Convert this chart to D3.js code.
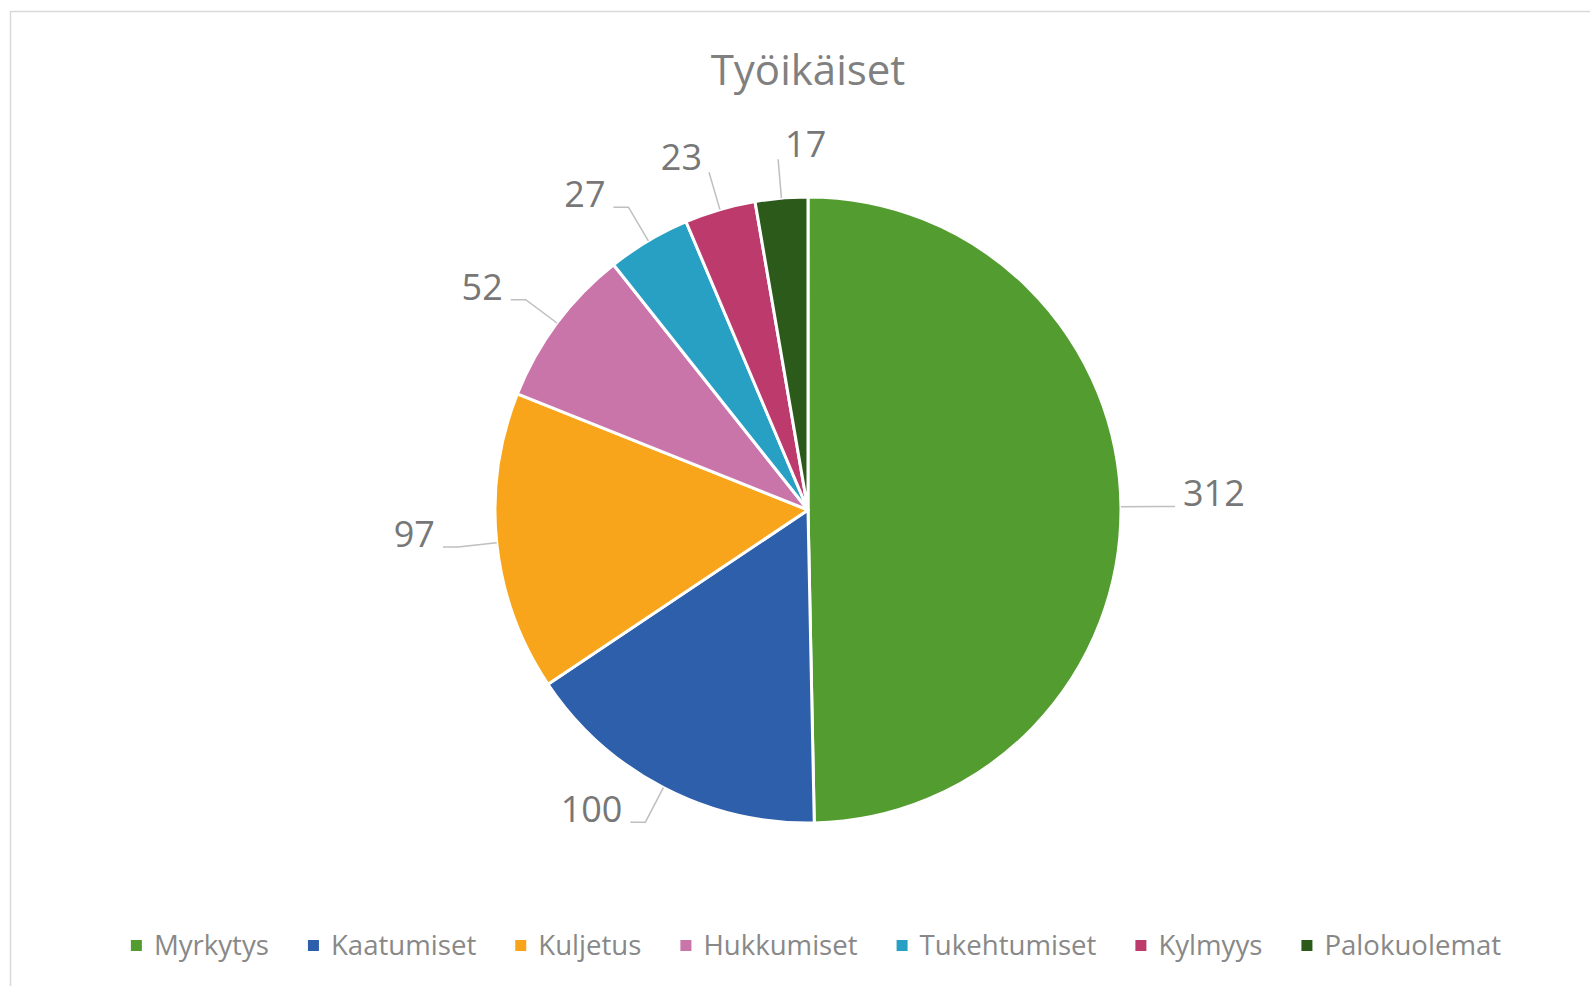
<!DOCTYPE html>
<html>
<head>
<meta charset="utf-8">
<script src="https://cdn.jsdelivr.net/npm/d3@7"></script>
<style>
  html, body { margin: 0; padding: 0; background: #ffffff; }
  svg { display: block; }
  text { font-family: "Open Sans", "Noto Sans", sans-serif; }
</style>
</head>
<body>
<svg id="chart" width="1590" height="986"></svg>
<script>
// ---- data ----
const title = "Työikäiset";
const categories = ["Myrkytys", "Kaatumiset", "Kuljetus", "Hukkumiset", "Tukehtumiset", "Kylmyys", "Palokuolemat"];
const values = [312, 100, 97, 52, 27, 23, 17];
const colors = ["#539C2F", "#2E5FAA", "#F8A51B", "#C975AA", "#28A0C4", "#BD3A6D", "#2C5A1B"];

// ---- layout ----
const W = 1590, H = 986;
const cx = 808, cy = 510, R = 313;
const elbowR = 352;
const svg = d3.select("#chart");

// chart area border (left + top visible)
svg.append("rect")
  .attr("x", 10.5).attr("y", 11.5)
  .attr("width", W + 20).attr("height", H + 20)
  .attr("fill", "#ffffff")
  .attr("stroke", "#d9d9d9").attr("stroke-width", 1.5);

// title
svg.append("text")
  .attr("x", cx).attr("y", 85)
  .attr("text-anchor", "middle")
  .attr("font-size", 42)
  .attr("fill", "#808080")
  .text(title);

const data = categories.map((c, i) => ({ name: c, value: values[i], color: colors[i] }));
const pie = d3.pie().sort(null).value(d => d.value).startAngle(0).endAngle(2 * Math.PI);
const arcs = pie(data);
const arc = d3.arc().innerRadius(0).outerRadius(R);

const g = svg.append("g").attr("transform", `translate(${cx},${cy})`);
g.selectAll("path.slice")
  .data(arcs)
  .join("path")
  .attr("class", "slice")
  .attr("d", arc)
  .attr("fill", d => d.data.color)
  .attr("stroke", "#ffffff")
  .attr("stroke-width", 3)
  .attr("stroke-linejoin", "round");

// data labels with leader lines
const polar = (a, r) => [r * Math.sin(a), -r * Math.cos(a)];
const midOf = d => (d.startAngle + d.endAngle) / 2;
// labels near the top are spread apart: left-of-group ones go left, others right
const topArcs = arcs.filter(d => Math.cos(midOf(d)) > 0.9);
const topMeanX = d3.mean(topArcs, d => polar(midOf(d), elbowR)[0]);

arcs.forEach(d => {
  const mid = midOf(d);
  const s = Math.sin(mid), c = Math.cos(mid);
  const edge = polar(mid, R);
  const elbow = polar(mid, elbowR);
  let dir = s < 0 ? -1 : 1;
  let pts, tx, ty;
  if (c > 0.9) {
    dir = elbow[0] < topMeanX ? -1 : 1;
    pts = [edge, elbow];
    tx = elbow[0] + dir * 7;
    ty = elbow[1] - 2;
  } else {
    const tail = [elbow[0] + dir * 15, elbow[1]];
    pts = [edge, elbow, tail];
    tx = tail[0] + dir * 8;
    ty = elbow[1];
  }
  g.append("path")
    .attr("d", d3.line()(pts))
    .attr("fill", "none")
    .attr("stroke", "#bfbfbf")
    .attr("stroke-width", 1.5);
  g.append("text")
    .attr("x", tx).attr("y", ty)
    .attr("text-anchor", dir < 0 ? "end" : "start")
    .attr("font-size", 36)
    .attr("fill", "#777777")
    .text(d.data.value);
});

// legend
const legend = svg.append("g");
const items = legend.selectAll("g.item").data(data).join("g").attr("class", "item");
items.append("rect")
  .attr("width", 11).attr("height", 11)
  .attr("y", 940)
  .attr("fill", d => d.color);
items.append("text")
  .attr("x", 23).attr("y", 955)
  .attr("font-size", 27.6)
  .attr("fill", "#888888")
  .text(d => d.name);
let x = 0;
const offsets = [];
items.each(function() {
  offsets.push(x);
  const w = d3.select(this).select("text").node().getComputedTextLength();
  x += 23 + w + 39;
});
const total = x - 39;
const startX = 816 - total / 2;
items.attr("transform", (d, i) => `translate(${startX + offsets[i]},0)`);
</script>
</body>
</html>
